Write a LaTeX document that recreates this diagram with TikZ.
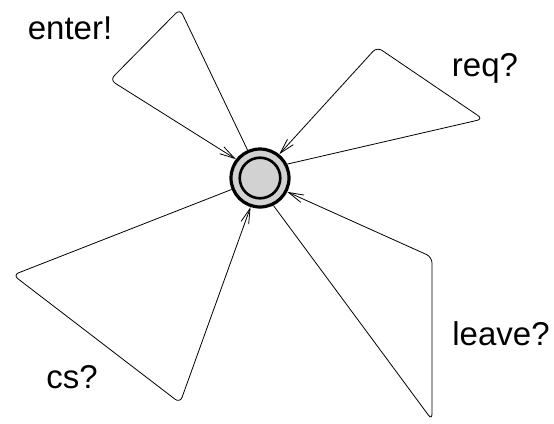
\documentclass[tikz,border=0pt]{standalone}
\usepackage{fontspec}
\setmainfont{Liberation Sans}
\usetikzlibrary{arrows.meta}
\begin{document}
\begin{tikzpicture}[x=1pt,y=-1pt,
  statebox/.style={circle,draw,line width=3.2pt,fill=gray!35,minimum size=58pt,inner sep=0pt},
  loopedge/.style={draw,line width=0.8pt,rounded corners=6pt,-{Straight Barb[length=15pt,width=8pt,line width=0.8pt]}},
  lbl/.style={font=\fontsize{33}{36}\selectfont,inner sep=0pt}]
\useasboundingbox (0,0) rectangle (554,423);
\node[statebox] (s) at (260,178) {};
\draw[line width=2.6pt] (s.center) circle (20.3pt);
\coordinate (e1) at (180,9);
\coordinate (e2) at (110,80);
\coordinate (r1) at (483,119);
\coordinate (r2) at (377,47);
\coordinate (c1) at (13,275);
\coordinate (c2) at (180,403);
\coordinate (l1) at (432,420);
\coordinate (l2) at (432,257);
\path[loopedge] (s.114) -- (e1) -- (e2) -- (s.142);
\path[loopedge] (s.27) -- (r1) -- (r2) -- (s.51);
\path[loopedge] (s.202) -- (c1) -- (c2) -- (s.252);
\path[loopedge] (s.296) -- (l1) -- (l2) -- (s.333);
\node[lbl] (te) at (70,28) {enter!};
\node[lbl] (tr) at (485,68) {req?};
\node[lbl] (tc) at (72,377) {cs?};
\node[lbl] (tl) at (501,334) {leave?};
\end{tikzpicture}
\end{document}
